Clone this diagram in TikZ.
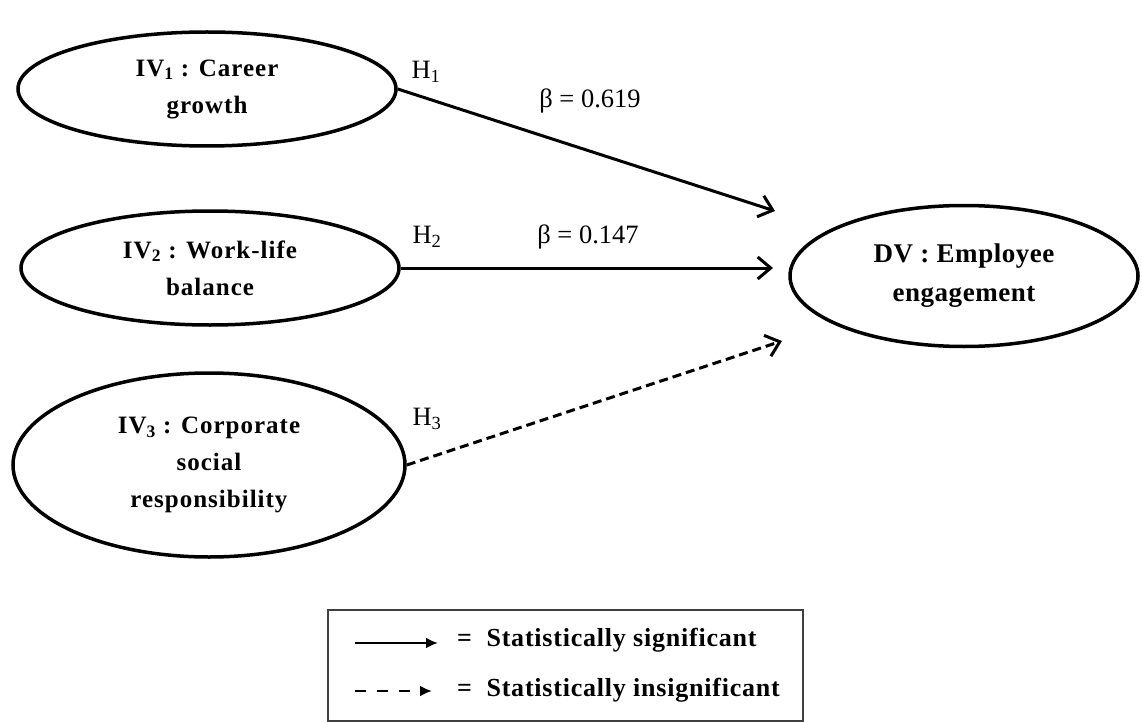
\documentclass[tikz,border=0pt]{standalone}
\usepackage{fontspec}
\setmainfont{Liberation Serif}
\usetikzlibrary{shapes.geometric,arrows.meta}
\tikzset{
  var/.style={draw, ellipse, line width=3.5pt, inner sep=0pt, align=center,
    font=\bfseries\addfontfeature{LetterSpace=4}\fontsize{25}{37}\selectfont},
  path/.style={line width=3pt, -{Straight Barb[length=13pt,width=22pt,line width=3pt]}},
  lbl/.style={font=\fontsize{26.5}{30}\selectfont, inner sep=0pt},
  legtxt/.style={anchor=west, inner sep=0pt, font=\bfseries\addfontfeature{LetterSpace=3}\fontsize{26}{30}\selectfont},
}
\begin{document}
\begin{tikzpicture}[x=1pt,y=-1pt]
\useasboundingbox (0,0) rectangle (1142,722);
% variables
\node[var, minimum width=378pt, minimum height=114pt] (iv1) at (207,89)
  {IV\textsubscript{1} : Career\\growth};
\node[var, minimum width=378pt, minimum height=114pt] (iv2) at (210,268)
  {IV\textsubscript{2} : Work-life\\balance};
\node[var, minimum width=392pt, minimum height=184pt] (iv3) at (209,465)
  {IV\textsubscript{3} : Corporate\\social\\responsibility};
\node[var, minimum width=348pt, minimum height=141pt,
  font=\bfseries\addfontfeature{LetterSpace=2}\fontsize{27}{39}\selectfont] (dv) at (964,276)
  {DV : Employee\\engagement};
% arrow ends
\coordinate (t1) at (775,211);
\coordinate (t2) at (773,268);
\coordinate (t3) at (782,341);
\draw[path] (iv1.east) -- (t1);
\draw[path] (iv2.east) -- (t2);
\draw[path, dash pattern=on 9pt off 5pt] (iv3.east) -- (t3);
% labels
\node[lbl] (h1) at (426,72) {H\textsubscript{1}};
\node[lbl] (h2) at (427,237) {H\textsubscript{2}};
\node[lbl] (h3) at (427,419) {H\textsubscript{3}};
\node[lbl] (b1) at (590,101) {β = 0.619};
\node[lbl] (b2) at (588,237) {β = 0.147};
% legend
\node[draw=black!75, line width=1.5pt, minimum width=475pt, minimum height=111pt, inner sep=0pt] (leg) at (565.5,665.5) {};
\coordinate (ls1) at (355,643);
\coordinate (le1) at (438,643);
\coordinate (ls2) at (355,691);
\coordinate (le2) at (432,691);
\draw[line width=2.6pt, -{Latex[length=12pt,width=11pt]}] (ls1) -- (le1);
\draw[line width=2.6pt, dash pattern=on 11pt off 11pt, -{Latex[length=12pt,width=11pt]}] (ls2) -- (le2);
\node[legtxt] (lt1) at (457,640) {=\ \ Statistically significant};
\node[legtxt] (lt2) at (457,690) {=\ \ Statistically insignificant};
\end{tikzpicture}
\end{document}
